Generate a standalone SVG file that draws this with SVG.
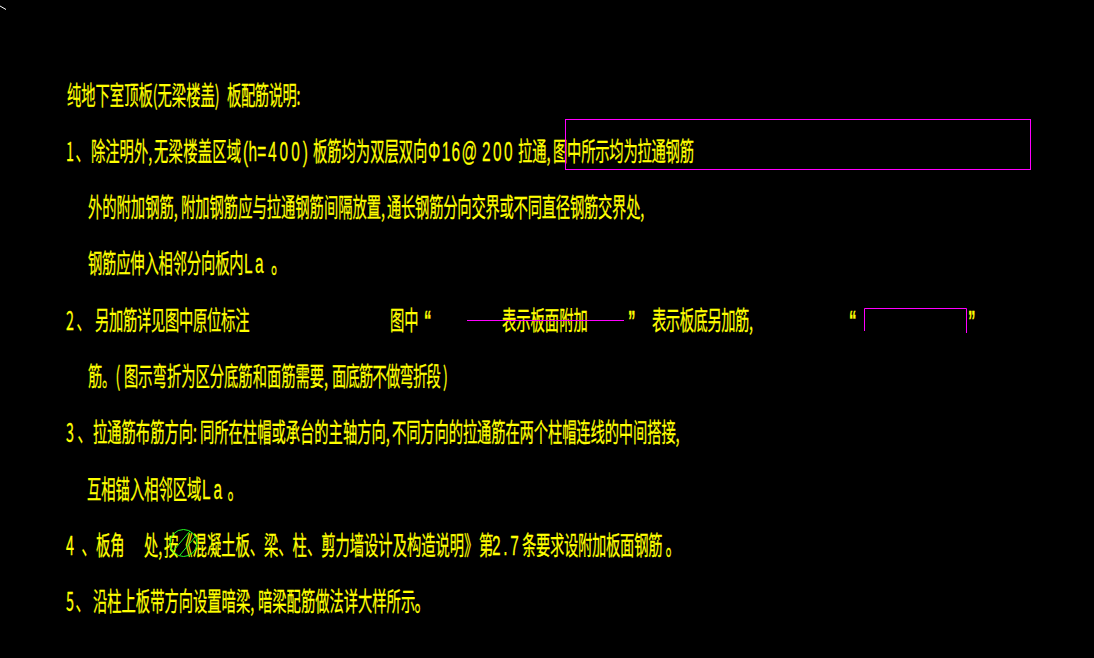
<svg xmlns="http://www.w3.org/2000/svg" width="1094" height="658" viewBox="0 0 1094 658">
<style>
text{font-family:"Noto Sans CJK SC","Liberation Sans",sans-serif;font-size:26px;fill:#ff0;stroke:#ff0;stroke-width:.25px}
.l{font-family:"Liberation Sans","Noto Sans CJK SC",sans-serif;font-size:28px}
.q{font-family:"Liberation Sans",sans-serif;font-weight:bold;font-size:27px}
.d{font-size:28px}
.e{font-size:24px}
.m{fill:none;stroke:#f0f;stroke-width:1}
.g{fill:none;stroke:#2f2;stroke-width:1}
</style>
<rect width="1094" height="658" fill="#000"/>
<g id="notes">
<text id="title" transform="scale(.55 1)" y="105"><tspan x="121.8">纯地下室顶板(无梁楼盖)</tspan><tspan x="412.7" letter-spacing="-.7">板配筋说明:</tspan></text>
<text id="note1a" transform="scale(.55 1)" y="161"><tspan x="120">1</tspan><tspan x="137.3">、</tspan><tspan x="165.5">除注明外,</tspan><tspan x="280" letter-spacing=".5">无梁楼盖区域</tspan><tspan class="l" x="441.8" letter-spacing=".6">(h=</tspan><tspan class="l" x="487.3" letter-spacing="5.5">400)</tspan><tspan x="569.1">板筋均为双层双向</tspan><tspan class="l" x="778.2" letter-spacing="2.5">Φ16@</tspan><tspan class="l" x="876.4" letter-spacing="4.4">200</tspan><tspan x="941.8">拉通,</tspan><tspan x="1005.5" letter-spacing="-.4">图中所示均为拉通钢筋</tspan></text>
<text id="note1b" transform="scale(.55 1)" y="217"><tspan x="160">外的附加钢筋,</tspan><tspan x="329.1">附加钢筋应与拉通钢筋间隔放置,</tspan><tspan x="703.6" letter-spacing="-.4">通长钢筋分向交界或不同直径钢筋交界处,</tspan></text>
<text id="note1c" transform="scale(.55 1)" y="273"><tspan x="160" letter-spacing="-.3">钢筋应伸入相邻分向板内</tspan><tspan class="l" x="443.6" letter-spacing="4.4">La</tspan><tspan class="d" x="492.7">。</tspan></text>
<text id="note2a" transform="scale(.55 1)" y="330"><tspan x="120">2</tspan><tspan x="139.1">、</tspan><tspan x="172.7" letter-spacing="-.5">另加筋详见图中原位标注</tspan><tspan x="709.1">图中</tspan><tspan class="q" x="770.9">“</tspan><tspan x="912.7">表示板面附加</tspan><tspan class="q" x="1141.8">”</tspan><tspan x="1185.5" letter-spacing="-.8">表示板底另加筋,</tspan><tspan class="q" x="1543.6">“</tspan><tspan class="q" x="1760">”</tspan></text>
<text id="note2b" transform="scale(.55 1)" y="386"><tspan x="160">筋</tspan><tspan class="e" x="185.5">。</tspan><tspan x="210">(</tspan><tspan x="225.5">图示弯折为区分底筋和面筋需要,</tspan><tspan x="603.6" letter-spacing="-1.4">面底筋不做弯折段</tspan><tspan x="805.5">)</tspan></text>
<text id="note3a" transform="scale(.55 1)" y="442"><tspan x="120">3</tspan><tspan x="140.9">、</tspan><tspan x="169.1">拉通筋布筋方向:</tspan><tspan x="363.6">同所在柱帽或承台的主轴方向,</tspan><tspan x="712.7" letter-spacing="-.2">不同方向的拉通筋在两个柱帽连线的中间搭接,</tspan></text>
<text id="note3b" transform="scale(.55 1)" y="499"><tspan x="158.2">互相锚入相邻区域</tspan><tspan class="l" x="367.3" letter-spacing="5.5">La</tspan><tspan class="d" x="413.6">。</tspan></text>
<text id="note4" transform="scale(.55 1)" y="555"><tspan x="120">4</tspan><tspan x="148.2">、</tspan><tspan x="174.5">板角</tspan><tspan x="261.8">处,</tspan><tspan x="298.2">按《混凝土板、梁、柱、剪力墙设计及构造说明》</tspan><tspan x="870.9">第</tspan><tspan class="l" x="894.5" letter-spacing="5">2.7</tspan><tspan x="949.1" letter-spacing="-.5">条要求设附加板面钢筋</tspan><tspan class="d" x="1210">。</tspan></text>
<text id="note5" transform="scale(.55 1)" y="611"><tspan x="120">5</tspan><tspan x="137.3">、</tspan><tspan x="169.1">沿柱上板带方向设置暗梁,</tspan><tspan x="469.1">暗梁配筋做法详大样所示</tspan><tspan class="d" x="753.6">。</tspan></text>
</g>
<g id="marks">
<rect class="m" x="565.5" y="119.5" width="465" height="50"/>
<path class="m" d="M467 320.5H624"/>
<path class="m" d="M864.5 331V308.5H966.5V333"/>
<circle class="g" cx="183.5" cy="543" r="13.5"/>
<path class="g" d="M174 550L190 531M180 555L195 537"/>
<path d="M0 6L6 9.5" stroke="#fff" fill="none"/>
</g>
</svg>
